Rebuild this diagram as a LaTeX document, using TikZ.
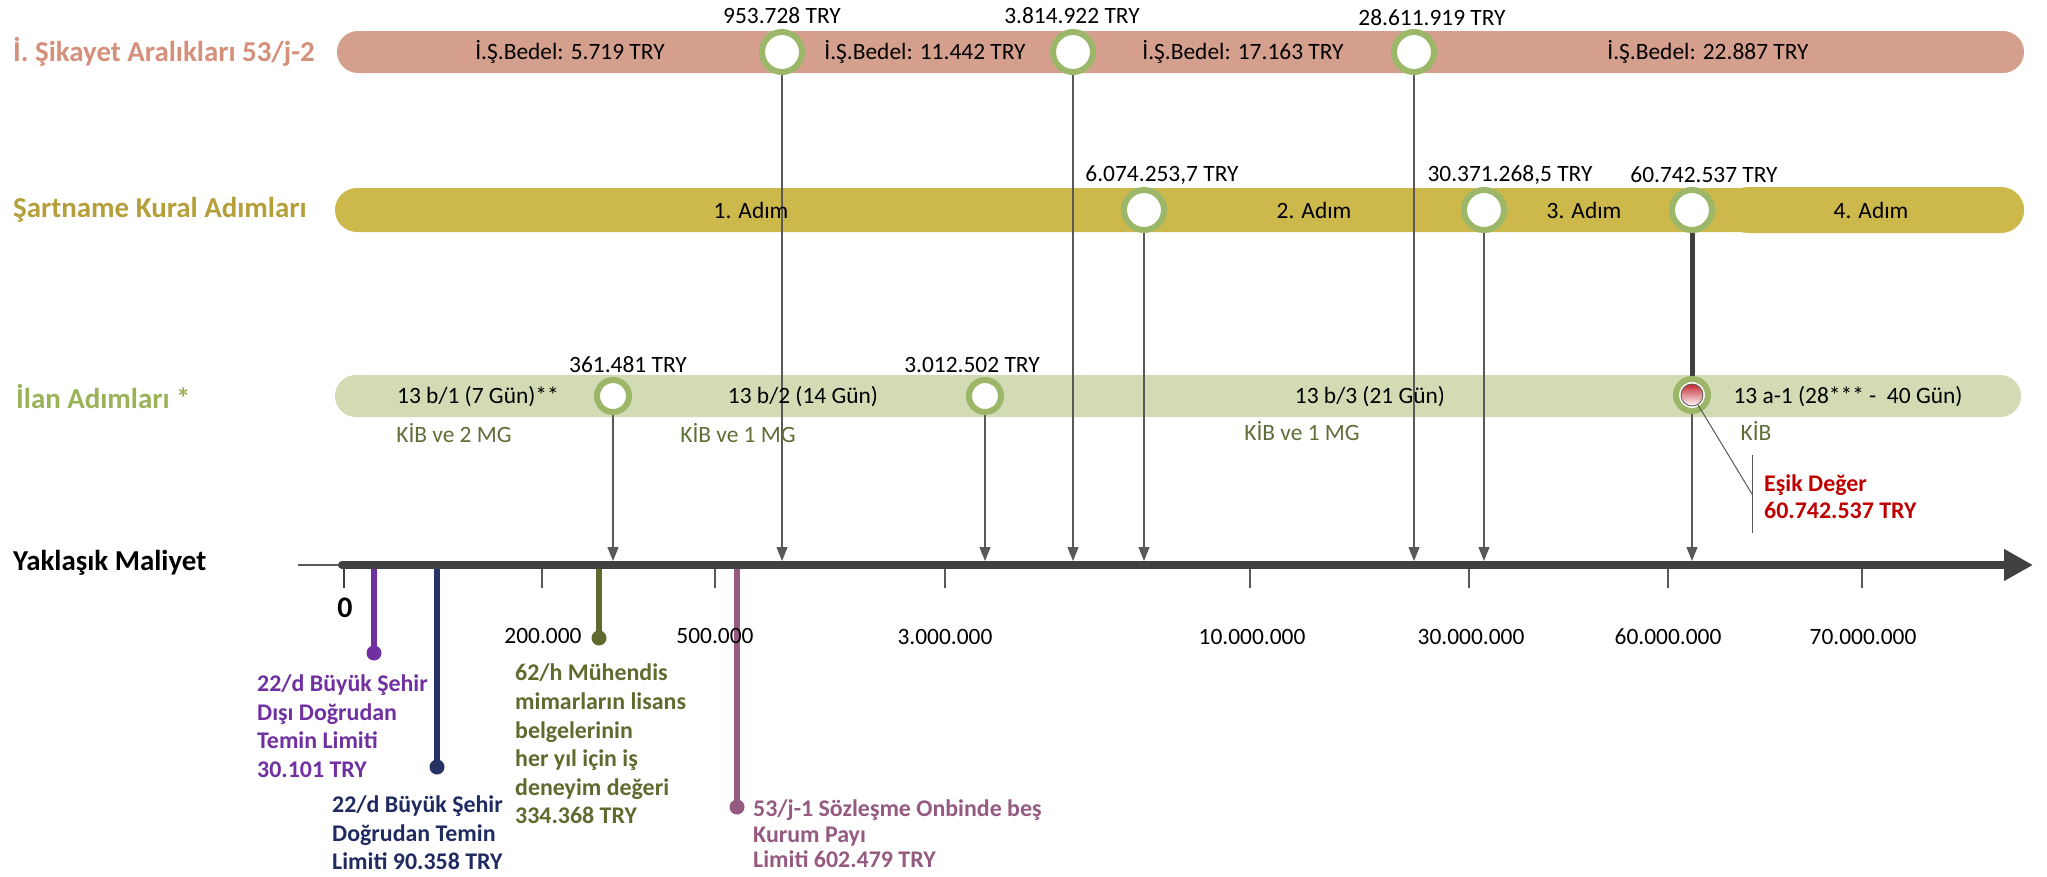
\documentclass[tikz,border=0pt]{standalone}
\usepackage{fontspec}
\setmainfont{Carlito}
\usetikzlibrary{shapes.misc,arrows.meta}
\definecolor{pinkbar}{HTML}{D49F8C}
\definecolor{pinklab}{HTML}{D4907A}
\definecolor{goldbar}{HTML}{CDB84C}
\definecolor{goldlab}{HTML}{B49F3A}
\definecolor{greenbar}{HTML}{D3DBB5}
\definecolor{greenlab}{HTML}{9AB258}
\definecolor{ringc}{HTML}{9BB767}
\definecolor{kibc}{HTML}{5F6E37}
\definecolor{axisc}{HTML}{404040}
\definecolor{linec}{HTML}{595959}
\definecolor{purpc}{HTML}{7030A0}
\definecolor{navyc}{HTML}{263263}
\definecolor{navyt}{HTML}{1F2A60}
\definecolor{olivec}{HTML}{5E6A2E}
\definecolor{mauvec}{HTML}{955A80}
\definecolor{redc}{HTML}{C00000}
\definecolor{redtop}{HTML}{C2282F}
\pgfdeclarelayer{back}
\pgfdeclarelayer{mid}
\pgfsetlayers{back,mid,main}
\begin{document}
\begin{tikzpicture}[x=1bp,y=-1bp,
  reg/.style={font=\fontsize{23.5}{28}\selectfont, inner sep=0},
  lab/.style={font=\fontsize{29}{34}\selectfont\bfseries, inner sep=0, anchor=west},
  bar/.style={rounded rectangle, inner sep=0, minimum height=42bp, draw=none},
  ringA/.style={circle, draw=ringc, line width=6bp, fill=white, minimum size=40bp, inner sep=0},
  ringB/.style={circle, draw=ringc, line width=6bp, fill=white, minimum size=32bp, inner sep=0},
  conn/.style={draw=linec, line width=1.2bp, -{Triangle[length=14bp,width=11bp]}},
  tickl/.style={draw=linec, line width=1.5bp},
  stem/.style={line width=6bp},
  dot/.style={circle, minimum size=15bp, inner sep=0},
  btxt/.style={font=\fontsize{24}{28.7}\selectfont\bfseries, align=left, inner sep=0, anchor=west}
]
\useasboundingbox (0,0) rectangle (2047,877);

% ---- bars
\begin{pgfonlayer}{back}
\node[bar, fill=pinkbar, minimum width=1687bp] (bar1) at (1180.5,52) {};
\node[bar, fill=goldbar, minimum width=1689bp, minimum height=44bp] (bar2) at (1179.5,210) {};
\node[bar, fill=goldbar, minimum width=299bp, minimum height=46bp] (bar2b) at (1874.5,210) {};
\node[bar, fill=greenbar, minimum width=1686bp] (bar3) at (1178,396) {};
\end{pgfonlayer}

% ---- row titles
\node[lab, text=pinklab] (l1) at (13,52) {İ. Şikayet Aralıkları 53/j-2};
\node[lab, text=goldlab] (l2) at (13,210) {Şartname Kural Adımları};
\node[lab, text=greenlab] (l3) at (16,397) {İlan Adımları *};
\node[lab, text=black] (l4) at (13,563) {Yaklaşık Maliyet};

% ---- circles
\node[ringA] (c11) at (782,52) {};
\node[ringA] (c12) at (1073,52) {};
\node[ringA] (c13) at (1414,52) {};
\node[ringA] (c21) at (1144,210) {};
\node[ringA] (c22) at (1484,210) {};
\node[ringA] (c23) at (1692,210) {};
\node[ringB] (c31) at (613,396) {};
\node[ringB] (c32) at (985,396) {};
\node[ringB] (c33) at (1692,395) {};
\node[circle, minimum size=22bp, inner sep=0, draw=gray!70!black, line width=0.8bp,
      top color=redtop, bottom color=white] (c33r) at (1692,395) {};

% ---- value labels
\node[reg] (t11) at (782,16) {953.728 TRY};
\node[reg] (t12) at (1072,16) {3.814.922 TRY};
\node[reg] (t13) at (1432,18) {28.611.919 TRY};
\node[reg] (t21) at (1162,175) {6.074.253,7 TRY};
\node[reg] (t22) at (1510,175) {30.371.268,5 TRY};
\node[reg] (t23) at (1704,175) {60.742.537 TRY};
\node[reg] (t31) at (628,365) {361.481 TRY};
\node[reg] (t32) at (972,365) {3.012.502 TRY};

% ---- bar texts
\node[reg] (b11) at (570,52) {İ.Ş.Bedel: 5.719 TRY};
\node[reg] (b12) at (925,52) {İ.Ş.Bedel: 11.442 TRY};
\node[reg] (b13) at (1243,52) {İ.Ş.Bedel: 17.163 TRY};
\node[reg] (b14) at (1708,52) {İ.Ş.Bedel: 22.887 TRY};
\node[reg] (b21) at (751,210) {1. Adım};
\node[reg] (b22) at (1314,210) {2. Adım};
\node[reg] (b23) at (1584,210) {3. Adım};
\node[reg] (b24) at (1871,210) {4. Adım};
\node[reg] (b31) at (478,397) {13 b/1 (7 Gün)**};
\node[reg] (b32) at (803,397) {13 b/2 (14 Gün)};
\node[reg] (b33) at (1370,397) {13 b/3 (21 Gün)};
\node[reg] (b34) at (1848,397) {13 a-1 (28*** -\ \ 40 Gün)};
\node[reg, text=kibc] (k1) at (454,433) {KİB ve 2 MG};
\node[reg, text=kibc] (k2) at (738,433) {KİB ve 1 MG};
\node[reg, text=kibc] (k3) at (1302,431) {KİB ve 1 MG};
\node[reg, text=kibc] (k4) at (1756,431) {KİB};

% ---- axis anchor points
\coordinate (a1) at (613,561);
\coordinate (a2) at (782,561);
\coordinate (a3) at (985,561);
\coordinate (a4) at (1073,561);
\coordinate (a5) at (1144,561);
\coordinate (a6) at (1414,561);
\coordinate (a7) at (1484,561);
\coordinate (a8) at (1692,561);

% ---- connectors
\begin{pgfonlayer}{mid}
\draw[conn] (c31) -- (a1);
\draw[conn] (c11) -- (a2);
\draw[conn] (c32) -- (a3);
\draw[conn] (c12) -- (a4);
\draw[conn] (c21) -- (a5);
\draw[conn] (c13) -- (a6);
\draw[conn] (c22) -- (a7);
\draw[conn] (c33) -- (a8);
\draw[line width=5bp, axisc] (c23) -- (c33);
\end{pgfonlayer}

% ---- threshold callout
\coordinate (bt) at (1752,455);
\coordinate (bm) at (1752,494);
\coordinate (bb) at (1752,533);
\draw[linec, line width=1bp] (bt) -- (bb);
\draw[linec, line width=1bp] (c33r) -- (bm);
\node[btxt, text=redc, font=\fontsize{24}{27}\selectfont\bfseries] (et) at (1764,497) {Eşik Değer\\60.742.537 TRY};

% ---- stems
\coordinate (p0) at (374,565);
\coordinate (n0) at (437,565);
\coordinate (o0) at (599,565);
\coordinate (m0) at (737,565);
\node[dot, fill=purpc] (pd) at (374,653) {};
\node[dot, fill=navyc] (nd) at (437,767) {};
\node[dot, fill=olivec] (od) at (599,638) {};
\node[dot, fill=mauvec] (md) at (737,807) {};
\draw[stem, purpc] (p0) -- (pd.center);
\draw[stem, navyc] (n0) -- (nd.center);
\draw[stem, olivec] (o0) -- (od.center);
\draw[stem, mauvec] (m0) -- (md.center);

% ---- axis
\coordinate (ax0) at (298,565);
\coordinate (ax1) at (342,565);
\coordinate (axE) at (2033,565);
\draw[linec, line width=2bp] (ax0) -- (ax1);
\draw[axisc, line width=8bp, line cap=round, -{Triangle[length=29bp,width=30bp]}] (ax1) -- (axE);
\draw[axisc, line width=2.5bp] (344,569) -- (344,588);
\foreach \x in {542,715,945,1250,1469,1668,1862} \draw[tickl] (\x,569) -- (\x,588);

% ---- axis labels
\node[inner sep=0, font=\fontsize{30}{34}\selectfont\bfseries] (z0) at (345,608) {0};
\node[reg] (x1) at (543,636) {200.000};
\node[reg] (x2) at (715,636) {500.000};
\node[reg] (x3) at (945,637) {3.000.000};
\node[reg] (x4) at (1252,637) {10.000.000};
\node[reg] (x5) at (1471,637) {30.000.000};
\node[reg] (x6) at (1668,637) {60.000.000};
\node[reg] (x7) at (1863,637) {70.000.000};

% ---- stem texts
\node[btxt, text=purpc] (pt) at (257,726) {22/d Büyük Şehir\\Dışı Doğrudan\\Temin Limiti\\30.101 TRY};
\node[btxt, text=navyt] (nt) at (332,833) {22/d Büyük Şehir\\Doğrudan Temin\\Limiti 90.358 TRY};
\node[btxt, text=olivec] (ot) at (515,744) {62/h Mühendis\\mimarların lisans\\belgelerinin\\her yıl için iş\\deneyim değeri\\334.368 TRY};
\node[btxt, text=mauvec, font=\fontsize{24}{25.5}\selectfont\bfseries] (mt) at (753,834) {53/j-1 Sözleşme Onbinde beş\\Kurum Payı\\Limiti 602.479 TRY};
\end{tikzpicture}
\end{document}
